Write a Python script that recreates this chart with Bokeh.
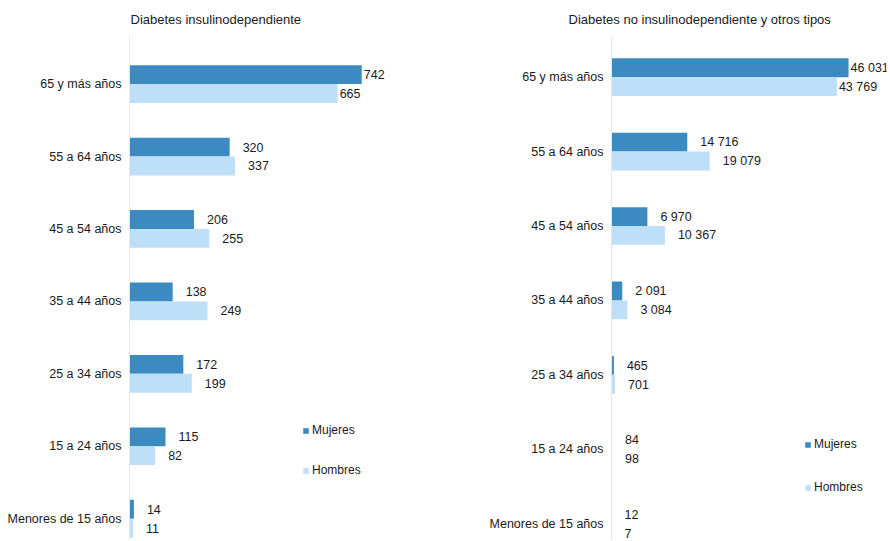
from bokeh.plotting import figure
from bokeh.models import ColumnDataSource, Range1d, FixedTicker, Legend, LegendItem
from bokeh.layouts import row
from bokeh.core.properties import value
from bokeh.embed import file_html
from bokeh.resources import INLINE

# ---- data (top to bottom) ----
categories = ["65 y más años", "55 a 64 años", "45 a 54 años", "35 a 44 años",
              "25 a 34 años", "15 a 24 años", "Menores de 15 años"]
insulino_mujeres = [742, 320, 206, 138, 172, 115, 14]
insulino_hombres = [665, 337, 255, 249, 199, 82, 11]
no_insulino_mujeres = [46031, 14716, 6970, 2091, 465, 84, 12]
no_insulino_hombres = [43769, 19079, 10367, 3084, 701, 98, 7]
series_names = ["Mujeres", "Hombres"]
titles = ["Diabetes insulinodependiente", "Diabetes no insulinodependiente y otros tipos"]

C_MUJ = "#3b8bc2"
C_HOM = "#bedff8"
NARROW = "'Liberation Sans Narrow', 'Arial Narrow', 'Liberation Sans', sans-serif"
SANS = "'Liberation Sans', Arial, sans-serif"

FIG_W, FIG_H = 444, 540
BORDER_TOP = 32
FRAME_H = FIG_H - BORDER_TOP


def fmt(v):
    return f"{v:,}".replace(",", " ")


def panel(title, muj, hom, xmax, min_left, min_right, ppu, top_center, title_offset,
          legend_xy, legend_spacing):
    n = len(categories)
    pos = [n - 1 - i for i in range(n)]
    end = (n - 1) + (top_center - BORDER_TOP) / ppu
    start = end - FRAME_H / ppu
    h = 19.0 / ppu

    p = figure(width=FIG_W, height=FIG_H, output_backend="svg", toolbar_location=None,
               x_range=Range1d(0, xmax), y_range=Range1d(start, end),
               min_border_left=min_left, min_border_right=min_right,
               min_border_top=BORDER_TOP, min_border_bottom=0)
    p.outline_line_color = None
    p.xgrid.visible = False
    p.ygrid.visible = False
    p.xaxis.visible = False
    p.background_fill_color = "white"
    p.border_fill_color = "white"

    ym = [v + h / 2 for v in pos]
    yh = [v - h / 2 for v in pos]
    src = ColumnDataSource(dict(ym=ym, yh=yh, muj=muj, hom=hom,
                                lm=[fmt(v) for v in muj], lh=[fmt(v) for v in hom],
                                off=[2 if i == 0 else 13 for i in range(n)]))
    r1 = p.hbar(y="ym", left=0, right="muj", height=h, source=src,
                fill_color=C_MUJ, line_color=None)
    r2 = p.hbar(y="yh", left=0, right="hom", height=h, source=src,
                fill_color=C_HOM, line_color=None)
    for xf, yf, lf in (("muj", "ym", "lm"), ("hom", "yh", "lh")):
        p.text(x=xf, y=yf, text=lf, source=src, x_offset="off",
               text_font=value(NARROW), text_font_size="12.5px",
               text_color="#1a1a1a", text_baseline="middle", text_align="left")

    ax = p.yaxis[0]
    ax.ticker = FixedTicker(ticks=pos)
    ax.major_label_overrides = {pv: c for pv, c in zip(pos, categories)}
    ax.major_tick_line_color = None
    ax.minor_tick_line_color = None
    ax.major_tick_out = 0
    ax.major_label_standoff = 8
    ax.axis_line_color = "#e4e8ec"
    ax.major_label_text_font = NARROW
    ax.major_label_text_font_size = "12.5px"
    ax.major_label_text_color = "#1a1a1a"

    p.title.text = title
    p.title.align = "left"
    p.title.offset = title_offset
    p.title.text_font = SANS
    p.title.text_font_size = "13px"
    p.title.text_font_style = "normal"
    p.title.text_color = "#1a1a1a"
    p.title.standoff = 19

    leg = Legend(items=[LegendItem(label=series_names[0], renderers=[r1]),
                        LegendItem(label=series_names[1], renderers=[r2])],
                 location=legend_xy, orientation="vertical", padding=0, margin=0,
                 spacing=legend_spacing, glyph_width=7, glyph_height=7,
                 label_standoff=3, label_height=12,
                 label_text_font=SANS, label_text_font_size="12px",
                 label_text_color="#1a1a1a",
                 background_fill_alpha=0, border_line_alpha=0)
    p.add_layout(leg)
    return p


p1 = panel(titles[0], insulino_mujeres, insulino_hombres, 1000, 129, 2, 73.0, 80,
           1, (173, 63), 26)
p2 = panel(titles[1], no_insulino_mujeres, no_insulino_hombres, 53400, 167, 2, 75.0, 73,
           -43, (193, 46), 29)

layout = row(p1, p2)
open("out.html", "w").write(file_html(layout, INLINE))
